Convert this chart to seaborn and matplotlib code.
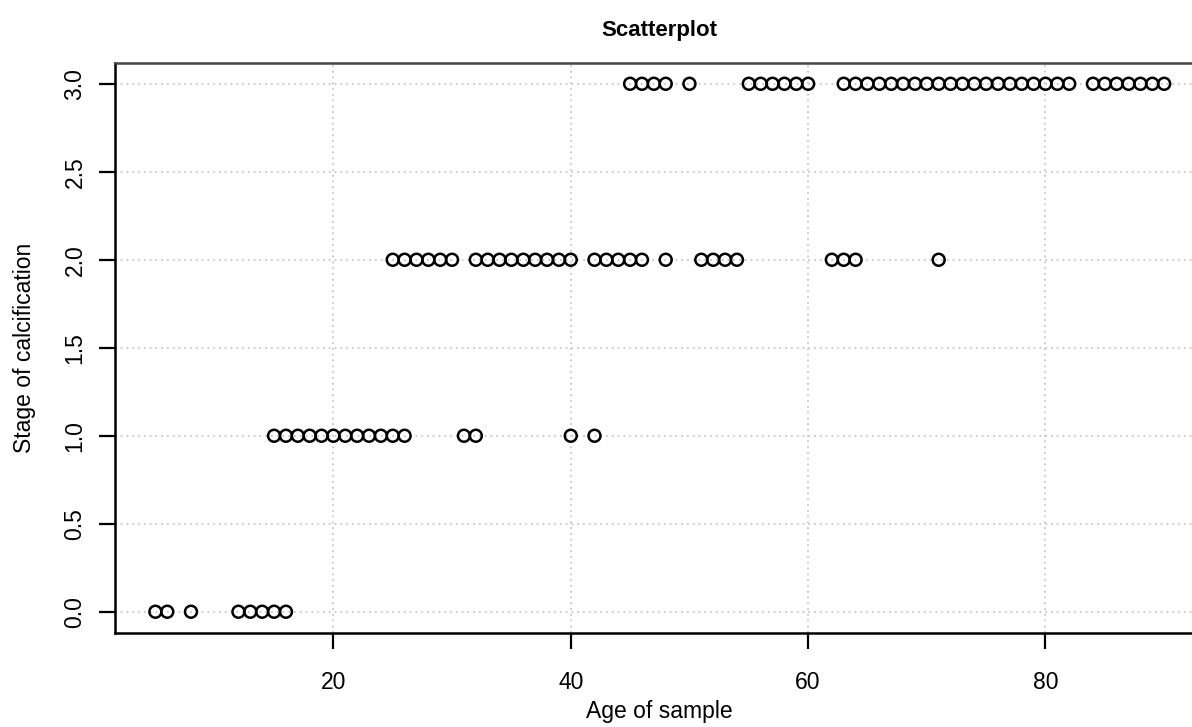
import numpy as np
import pandas as pd
import matplotlib
matplotlib.use("Agg")
import matplotlib.pyplot as plt
import seaborn as sns

# Ages, grouped by stage of calcification
ages_stage0 = [5, 6, 8, 12, 13, 14, 15, 16]
ages_stage1 = [15, 16, 17, 18, 19, 20, 21, 22, 23, 24, 25, 26, 31, 32, 40, 42]
ages_stage2 = [25, 26, 27, 28, 29, 30, 32, 33, 34, 35, 36, 37, 38, 39, 40,
               42, 43, 44, 45, 46, 48, 51, 52, 53, 54, 62, 63, 64, 71]
ages_stage3 = [45, 46, 47, 48, 50, 55, 56, 57, 58, 59, 60,
               63, 64, 65, 66, 67, 68, 69, 70, 71, 72, 73, 74, 75, 76, 77, 78,
               79, 80, 81, 82, 84, 85, 86, 87, 88, 89, 90]
stages = [0, 1, 2, 3]

x_ticks = [20, 40, 60, 80]
y_ticks = [0.0, 0.5, 1.0, 1.5, 2.0, 2.5, 3.0]

groups = [ages_stage0, ages_stage1, ages_stage2, ages_stage3]
df = pd.DataFrame({
    "age": [a for g in groups for a in g],
    "stage": [s for s, g in zip(stages, groups) for _ in g],
})

sns.set_style("white")
plt.rcParams['font.family'] = ['Liberation Sans', 'DejaVu Sans']
plt.rcParams['text.color'] = 'black'
plt.rcParams['axes.labelcolor'] = 'black'
plt.rcParams['xtick.color'] = 'black'
plt.rcParams['ytick.color'] = 'black'

fig = plt.figure(figsize=(11.92, 7.27), dpi=100)
ax = fig.add_axes([0.0965, 0.1295, 0.914, 0.7843])

# R-style padding of 4% on both axes
xr = max(df["age"]) - min(df["age"])
ax.set_xlim(min(df["age"]) - 0.04 * xr, max(df["age"]) + 0.04 * xr)
ax.set_ylim(-0.12, 3.12)

ax.set_xticks(x_ticks)
ax.set_yticks(y_ticks)
ax.grid(True, color="#c8c8c8", linestyle=(0, (1, 2.2)), linewidth=1.3)
ax.set_axisbelow(True)

sns.scatterplot(data=df, x="age", y="stage", ax=ax, marker="o", s=74,
                facecolor="none", edgecolor="black", linewidth=1.8, zorder=3)

ax.set_yticklabels([f"{v:.1f}" for v in y_ticks], rotation=90, va="center")
ax.tick_params(axis="both", direction="out", length=11.5, width=1.6,
               labelsize=16.5, colors="black", bottom=True, left=True)
ax.tick_params(axis="x", pad=16)
ax.tick_params(axis="y", pad=9)
for sp in ax.spines.values():
    sp.set_color("black")
    sp.set_linewidth(1.8)
ax.spines["top"].set_color("#444444")

ax.set_xlabel("Age of sample", fontsize=16.5, labelpad=4)
ax.set_ylabel("Stage of calcification", fontsize=16.5, labelpad=20)
ax.set_title("Scatterplot", fontsize=16, fontweight="bold", pad=19)

fig.savefig("out.png", dpi=100)
